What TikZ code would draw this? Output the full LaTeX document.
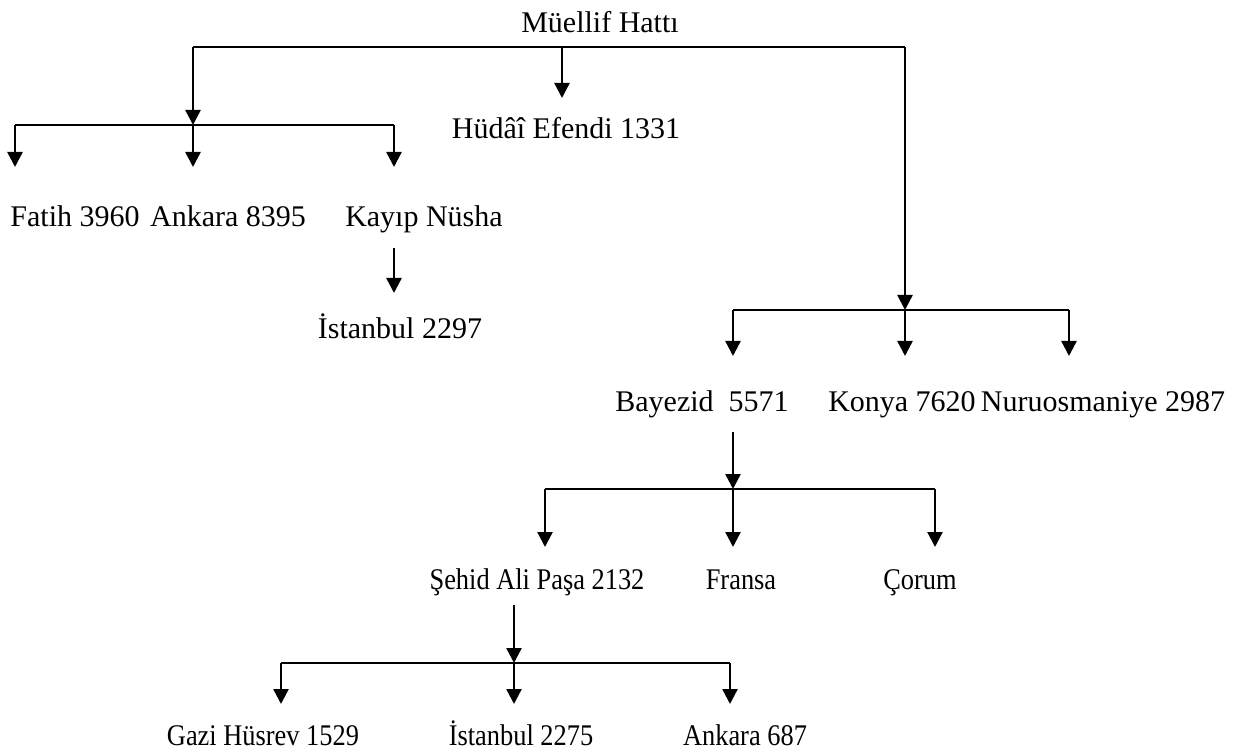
\documentclass[tikz,border=0pt]{standalone}
\usepackage{graphicx}
\usepackage{fontspec}
\setmainfont{Liberation Serif}
\usetikzlibrary{arrows.meta}
\newcommand{\narrowtxt}[1]{\scalebox{0.88}[1]{#1}}
\begin{document}
\begin{tikzpicture}[x=1pt,y=-1pt,
  lbl/.style={inner sep=0pt, anchor=base, font=\fontsize{30}{34}\selectfont},
  conn/.style={line width=2.4pt},
  arr/.style={line width=2.4pt,-{Triangle[length=15pt,width=15pt]}}]
\useasboundingbox (0,0) rectangle (1240,751);
% labels (positions are baselines)
\node[lbl] (root) at (600,33) {Müellif Hattı};
\node[lbl] (hud) at (566,139) {Hüdâî Efendi 1331};
\node[lbl] (fatih) at (75,227) {Fatih 3960};
\node[lbl] (ank1) at (228,227) {Ankara 8395};
\node[lbl] (kayip) at (424,227) {Kayıp Nüsha};
\node[lbl] (ist1) at (400,339) {İstanbul 2297};
\node[lbl] (bay) at (702,411) {Bayezid\ \ 5571};
\node[lbl] (konya) at (902,411) {Konya 7620};
\node[lbl] (nuru) at (1103,411) {Nuruosmaniye 2987};
\node[lbl] (sehid) at (537,589) {\narrowtxt{Şehid Ali Paşa 2132}};
\node[lbl] (fransa) at (741,589) {\narrowtxt{Fransa}};
\node[lbl] (corum) at (920,589) {\narrowtxt{Çorum}};
\node[lbl] (gazi) at (263,745) {\narrowtxt{Gazi Hüsrev 1529}};
\node[lbl] (ist2) at (521,745) {\narrowtxt{İstanbul 2275}};
\node[lbl] (ank2) at (745,745) {\narrowtxt{Ankara 687}};
% junction coordinates
\coordinate (h0L) at (193,47);
\coordinate (h0M) at (562,47);
\coordinate (h0R) at (905,47);
\coordinate (h1L) at (15,125);
\coordinate (h1M) at (193,125);
\coordinate (h1R) at (394,125);
\coordinate (h2L) at (733,310);
\coordinate (h2M) at (905,310);
\coordinate (h2R) at (1069,310);
\coordinate (h3L) at (545,489);
\coordinate (h3M) at (733,489);
\coordinate (h3R) at (935,489);
\coordinate (h4L) at (281,663);
\coordinate (h4M) at (514,663);
\coordinate (h4R) at (730,663);
% level 0
\draw[conn] (h0L) -- (h0R);
\draw[arr] (h0L) -- (h1M);
\draw[arr] (h0M) -- (562,98);
\draw[arr] (h0R) -- (h2M);
% level 1 left
\draw[conn] (h1L) -- (h1R);
\draw[arr] (h1L) -- (15,167);
\draw[arr] (h1M) -- (193,167);
\draw[arr] (h1R) -- (394,167);
\draw[arr] (394,248) -- (394,293);
% level 2 right
\draw[conn] (h2L) -- (h2R);
\draw[arr] (h2L) -- (733,356);
\draw[arr] (h2M) -- (905,356);
\draw[arr] (h2R) -- (1069,356);
% level 3
\draw[arr] (733,432) -- (h3M);
\draw[conn] (h3L) -- (h3R);
\draw[arr] (h3L) -- (545,547);
\draw[arr] (h3M) -- (733,547);
\draw[arr] (h3R) -- (935,547);
% level 4
\draw[arr] (514,605) -- (h4M);
\draw[conn] (h4L) -- (h4R);
\draw[arr] (h4L) -- (281,704);
\draw[arr] (h4M) -- (514,704);
\draw[arr] (h4R) -- (730,704);
\end{tikzpicture}
\end{document}
